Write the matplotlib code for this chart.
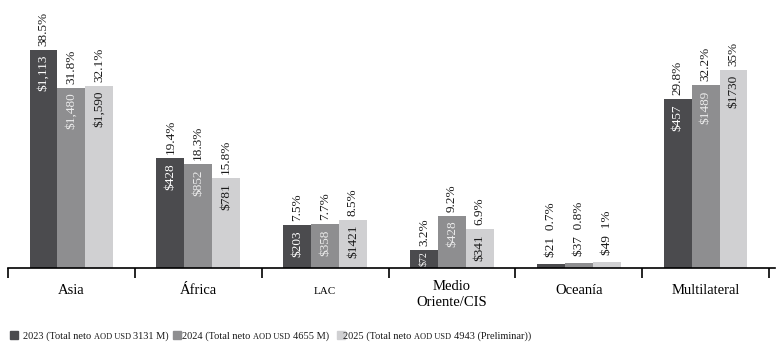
import matplotlib
matplotlib.use("Agg")
import matplotlib.pyplot as plt
from matplotlib.patches import Rectangle
import matplotlib.transforms as mtrans
import numpy as np

categories = ["Asia", "África", "LAC", "Medio\nOriente/CIS", "Oceanía", "Multilateral"]
legend_years = ["2023", "2024", "2025"]
legend_totals = ["3131 M)", "4655 M)", "4943 (Preliminar))"]
pct_2023 = [38.5, 19.4, 7.5, 3.2, 0.7, 29.8]
pct_2024 = [31.8, 18.3, 7.7, 9.2, 0.8, 32.2]
pct_2025 = [32.1, 15.8, 8.5, 6.9, 1.0, 35.0]
pct_lbl_2023 = ["38.5%", "19.4%", "7.5%", "3.2%", "0.7%", "29.8%"]
pct_lbl_2024 = ["31.8%", "18.3%", "7.7%", "9.2%", "0.8%", "32.2%"]
pct_lbl_2025 = ["32.1%", "15.8%", "8.5%", "6.9%", "1%", "35%"]
usd_2023 = ["$1,113", "$428", "$203", "$72", "$21", "$457"]
usd_2024 = ["$1,480", "$852", "$358", "$428", "$37", "$1489"]
usd_2025 = ["$1,590", "$781", "$1421", "$341", "$49", "$1730"]

colors = ["#4b4b4e", "#8e8e90", "#d0d0d2"]
usd_colors = ["#ffffff", "#ececec", "#1a1a1a"]

plt.rcParams["font.family"] = ["Liberation Serif", "DejaVu Serif"]

W, H = 780, 353
fig = plt.figure(figsize=(W / 100, H / 100), dpi=100)
renderer = fig.canvas.get_renderer()
base_px = 268
ax = fig.add_axes([8 / W, (H - base_px) / H, (775 - 8) / W, base_px / H])
ytop = 268 / 5.67
ax.set_xlim(-0.5, 5.5 + 6 / 127)
ax.set_ylim(0, ytop)
ppu = base_px / ytop  # pixels per percent

x = np.arange(len(categories))
bw = 0.22
pcts = [pct_2023, pct_2024, pct_2025]
pct_lbls = [pct_lbl_2023, pct_lbl_2024, pct_lbl_2025]
usds = [usd_2023, usd_2024, usd_2025]


def off(dy_px):
    return ax.transData + mtrans.ScaledTranslation(0, dy_px / 100, fig.dpi_scale_trans)


for s in range(3):
    xs = x + (s - 1) * bw
    ax.bar(xs, pcts[s], width=bw, color=colors[s], edgecolor="none")
    for i in range(len(categories)):
        h = pcts[s][i]
        bar_px = h * ppu
        if bar_px < 10:
            ax.text(xs[i], h, usds[s][i] + "  " + pct_lbls[s][i],
                    transform=off(7), rotation=90, ha="center", va="bottom",
                    fontsize=9.5, color="#1a1a1a")
            continue
        t = ax.text(xs[i], h, usds[s][i], transform=off(-5), rotation=90,
                    ha="center", va="top", fontsize=9.5, color=usd_colors[s])
        tlen = t.get_window_extent(renderer).height
        if tlen + 7 > bar_px:
            t.set_fontsize(9.5 * (bar_px - 3) / tlen)
            t.set_y(h / 2)
            t.set_va("center")
            t.set_transform(off(0))
        ax.text(xs[i], h, pct_lbls[s][i], transform=off(4), rotation=90,
                ha="center", va="bottom", fontsize=9.5, color="#1a1a1a")

for sp in ["top", "right", "left"]:
    ax.spines[sp].set_visible(False)
ax.spines["bottom"].set_linewidth(1.2)
ax.set_yticks([])
ax.set_xticks([])
ax.set_xticks(np.arange(-0.5, 6.0, 1.0), minor=True)
ax.tick_params(axis="x", which="minor", length=7.5, width=1.2,
               direction="out", labelbottom=False)

for i, c in enumerate(categories):
    if "\n" in c:
        ax.text(x[i], -(295 - base_px) / ppu, c, ha="center", va="center",
                fontsize=10.5, linespacing=1.3)
    else:
        fs = 8 if c == "LAC" else 10.5
        ax.text(x[i], -(291 - base_px) / ppu, c, ha="center", va="center",
                fontsize=fs)

# legend (small caps imitated with a smaller size for "AOD USD")
sq_x = [10, 173, 337]
tx_x = [23, 182, 343]
ly = 335
base_y = 339
fs_main, fs_sc = 7.5, 6.0


def put_parts(x0, y0, parts):
    xp = x0
    for k, (txt, fs) in enumerate(parts):
        t = fig.text(xp / W, (H - y0) / H, txt, ha="left", va="baseline",
                     fontsize=fs, color="#1a1a1a")
        w = t.get_window_extent(renderer).width
        xp += w + 0.25 * fs_main * 100 / 72


for s in range(3):
    fig.patches.append(Rectangle((sq_x[s] / W, (H - ly - 4) / H), 8 / W, 8 / H,
                                 transform=fig.transFigure, color=colors[s]))
    parts = [(legend_years[s] + " (Total neto", fs_main), ("AOD USD", fs_sc),
             (legend_totals[s], fs_main)]
    put_parts(tx_x[s], base_y, parts)

fig.savefig("out.png", dpi=100)
